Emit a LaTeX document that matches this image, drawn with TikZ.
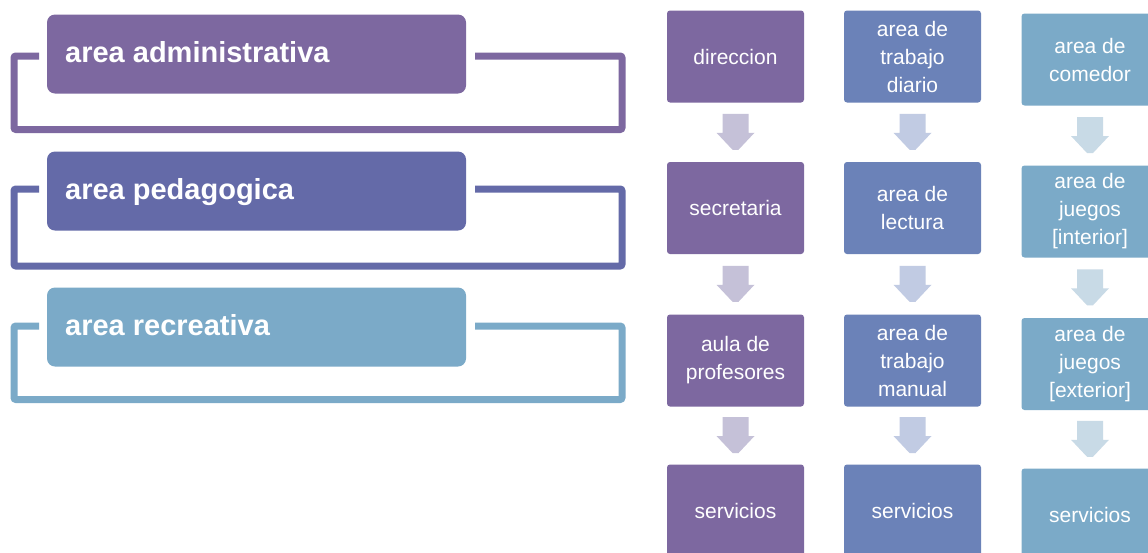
\documentclass[tikz,border=0pt]{standalone}
\usepackage{fontspec}
\setmainfont{Liberation Sans}
\usetikzlibrary{calc}
\definecolor{cPurple}{HTML}{7D68A0}
\definecolor{cIndigo}{HTML}{646AA8}
\definecolor{cBlue}{HTML}{6B82B8}
\definecolor{cLight}{HTML}{7BAAC8}
\definecolor{aPurple}{HTML}{C5C1D8}
\definecolor{aBlue}{HTML}{C1CBE3}
\definecolor{aLight}{HTML}{C8DAE6}
\begin{document}
\begin{tikzpicture}[x=1pt,y=-1pt,
 bigbox/.style={fill=#1, rectangle, rounded corners=8pt, minimum width=419pt, minimum height=79pt, inner sep=0pt},
 bigtext/.style={text=white, font=\fontsize{29}{31}\selectfont\bfseries, inner sep=0pt, anchor=base west},
 frameline/.style={line width=7pt, draw=#1, rounded corners=2pt},
 smallbox/.style={fill=#1, rectangle, rounded corners=3pt, minimum width=137pt, minimum height=92pt, text=white, align=center, font=\fontsize{21}{28}\selectfont, inner sep=0pt},
 pics/darr/.style={code={\fill[#1] (-13,-18.5) -- (13,-18.5) -- (13,0.5) -- (19,0.5) -- (3,17.5) -- (-3,17.5) -- (-19,0.5) -- (-13,0.5) -- cycle;}}
]
\useasboundingbox (0,0) rectangle (1148,552);
\fill[white] (0,0) rectangle (1148,552);

% left groups: frames
\draw[frameline=cPurple] (39,56) -- (14,56) -- (14,129.5) -- (622,129.5) -- (622,56) -- (475,56);
\draw[frameline=cIndigo] (39,189) -- (14,189) -- (14,266) -- (622,266) -- (622,189) -- (475,189);
\draw[frameline=cLight] (39,326) -- (14,326) -- (14,399.5) -- (622,399.5) -- (622,326) -- (475,326);

\node[bigbox=cPurple] (adm) at (256.5,54) {};
\node[bigbox=cIndigo] (ped) at (256.5,191) {};
\node[bigbox=cLight] (rec) at (256.5,327) {};
\node[bigtext] (admt) at (65,62) {area administrativa};
\node[bigtext] (pedt) at (65,199) {area pedagogica};
\node[bigtext] (rect) at (65,335) {area recreativa};

% column 1
\node[smallbox=cPurple] (a1) at (735.5,56.5) {direccion};
\node[smallbox=cPurple] (a2) at (735.5,208) {secretaria};
\node[smallbox=cPurple] (a3) at (735.5,360.5) {aula de\\profesores};
\node[smallbox=cPurple] (a4) at (735.5,510.5) {servicios};
% column 2
\node[smallbox=cBlue] (b1) at (912.5,56.5) {area de\\trabajo\\diario};
\node[smallbox=cBlue] (b2) at (912.5,208) {area de\\lectura};
\node[smallbox=cBlue] (b3) at (912.5,360.5) {area de\\trabajo\\manual};
\node[smallbox=cBlue] (b4) at (912.5,510.5) {servicios};
% column 3
\node[smallbox=cLight] (c1) at (1090,59.5) {area de\\comedor};
\node[smallbox=cLight] (c2) at (1090,211.5) {area de\\juegos\\{[interior]}};
\node[smallbox=cLight] (c3) at (1090,364) {area de\\juegos\\{[exterior]}};
\node[smallbox=cLight] (c4) at (1090,514.5) {servicios};

% arrows
\path ($(a1.south)!0.5!(a2.north)$) pic{darr=aPurple};
\path ($(a2.south)!0.5!(a3.north)$) pic{darr=aPurple};
\path ($(a3.south)!0.5!(a4.north)$) pic{darr=aPurple};
\path ($(b1.south)!0.5!(b2.north)$) pic{darr=aBlue};
\path ($(b2.south)!0.5!(b3.north)$) pic{darr=aBlue};
\path ($(b3.south)!0.5!(b4.north)$) pic{darr=aBlue};
\path ($(c1.south)!0.5!(c2.north)$) pic{darr=aLight};
\path ($(c2.south)!0.5!(c3.north)$) pic{darr=aLight};
\path ($(c3.south)!0.5!(c4.north)$) pic{darr=aLight};
\end{tikzpicture}
\end{document}
